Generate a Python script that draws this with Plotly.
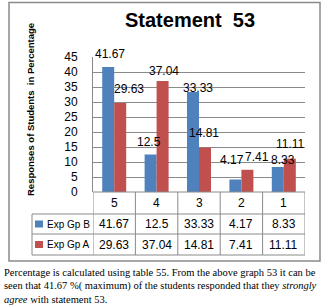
import plotly.graph_objects as go

categories = ["5", "4", "3", "2", "1"]
series_names = ["Exp Gp B", "Exp Gp A"]
exp_gp_b = [41.67, 12.5, 33.33, 4.17, 8.33]
exp_gp_a = [29.63, 37.04, 14.81, 7.41, 11.11]
colors = ["#4F81BD", "#C0504D"]
y_ticks = [0, 5, 10, 15, 20, 25, 30, 35, 40, 45]

# label placement tweaks (pixels, relative to bar centre / bar top) – styling only
label_dx = [[2, -2, 5, -3, 5], [9, 1, -1, 10, 1]]
label_dy = [[13, 13, 4, 19, 7], [14, 10, 15, 13, 15]]

W, H = 330, 307
L, R, T, B = 93, 305, 57, 192  # plot area in pixels


def px(x):
    return (x - L) / (R - L)


def py(y):
    return (B - y) / (B - T)


FONT = "Liberation Sans"
GRID = "#8a8a8a"
xs = list(range(len(categories)))
bar_gap = 0.434
half = (1 - bar_gap) / 4  # offset of each bar centre from category centre (x units)

fig = go.Figure()
annotations = []
for s, (name, vals, col) in enumerate(zip(series_names, [exp_gp_b, exp_gp_a], colors)):
    fig.add_trace(go.Bar(
        x=xs, y=vals, name=name, marker=dict(color=col, line=dict(width=0)),
        showlegend=False, hoverinfo="y",
    ))
    for i, v in enumerate(vals):
        annotations.append(dict(
            x=i + (half if s else -half), xref="x", y=v, yref="y",
            text=f"{v:g}", showarrow=False, xanchor="center", yanchor="middle",
            xshift=label_dx[s][i], yshift=label_dy[s][i],
            font=dict(family=FONT, size=12, color="black")))

shapes = []

# outer frame
shapes.append(dict(type="rect", xref="paper", yref="paper",
                   x0=px(9), x1=px(320), y0=py(261), y1=py(2.5),
                   line=dict(color=GRID, width=1.5)))

# table geometry (pixels)
row_tops = [B, 214, 234, 255]
leg_left = 32
shapes.append(dict(type="line", xref="paper", yref="paper", x0=px(L), x1=px(R),
                   y0=py(row_tops[0]), y1=py(row_tops[0]), line=dict(color=GRID, width=1)))
for yy in row_tops[1:]:
    shapes.append(dict(type="line", xref="paper", yref="paper", x0=px(leg_left), x1=px(R),
                       y0=py(yy), y1=py(yy), line=dict(color=GRID, width=1)))
for i in range(len(categories) + 1):
    shapes.append(dict(type="line", xref="x", yref="paper", x0=i - 0.5, x1=i - 0.5,
                       y0=py(row_tops[0]), y1=py(row_tops[-1]), line=dict(color=GRID, width=1)))
shapes.append(dict(type="line", xref="paper", yref="paper", x0=px(leg_left), x1=px(leg_left),
                   y0=py(row_tops[1]), y1=py(row_tops[-1]), line=dict(color=GRID, width=1)))

# category row
for i, c in enumerate(categories):
    annotations.append(dict(x=i, xref="x", y=py((row_tops[0] + row_tops[1]) / 2), yref="paper",
                            text=c, showarrow=False, xanchor="center", yanchor="middle",
                            font=dict(family=FONT, size=12, color="black")))
# data rows
for r, (name, vals, col) in enumerate(zip(series_names, [exp_gp_b, exp_gp_a], colors)):
    yc = (row_tops[r + 1] + row_tops[r + 2]) / 2
    for i, v in enumerate(vals):
        annotations.append(dict(x=i, xref="x", y=py(yc), yref="paper", text=f"{v:g}",
                                showarrow=False, xanchor="center", yanchor="middle",
                                font=dict(family=FONT, size=12, color="black")))
    shapes.append(dict(type="rect", xref="paper", yref="paper", x0=px(35), x1=px(43),
                       y0=py(yc + 3.5), y1=py(yc - 3.5), fillcolor=col, line=dict(width=0)))
    annotations.append(dict(x=px(45), xref="paper", y=py(yc), yref="paper", text=name,
                            xanchor="left", yanchor="middle", showarrow=False,
                            font=dict(family=FONT, size=10, color="black")))

# title
annotations.append(dict(x=px(190), y=py(20), xref="paper", yref="paper",
                        text="<b>Statement  53</b>", showarrow=False,
                        xanchor="center", yanchor="middle",
                        font=dict(family=FONT, size=20, color="black")))
# y axis title
annotations.append(dict(x=px(30), y=py(110), xref="paper", yref="paper", textangle=-90,
                        text="<b>Responses of Students  in Percentage</b>", showarrow=False,
                        xanchor="center", yanchor="middle",
                        font=dict(family=FONT, size=9.5, color="black")))

# caption below chart
caption = [
    "Percentage is calculated using table 55. From the above graph 53 it can be",
    f"seen that {max(exp_gp_b + exp_gp_a):g} %( maximum) of the students responded that they <i>strongly</i>",
    "<i>agree</i> with statement 53.",
]
for k, line in enumerate(caption):
    annotations.append(dict(x=px(2), y=py(272 + 13.5 * k), xref="paper", yref="paper",
                            xanchor="left", yanchor="middle", text=line, showarrow=False,
                            font=dict(family="Liberation Serif", size=10.5, color="black")))

fig.update_layout(
    width=W, height=H,
    margin=dict(l=L, r=W - R, t=T, b=H - B, pad=0),
    paper_bgcolor="white", plot_bgcolor="white",
    barmode="group", bargap=bar_gap, bargroupgap=0,
    xaxis=dict(range=[-0.5, len(categories) - 0.5], showticklabels=False, showgrid=False,
               zeroline=False, showline=False, ticks=""),
    yaxis=dict(range=[0, 45], tickvals=y_ticks, showgrid=True, gridcolor=GRID, gridwidth=1,
               zeroline=False, showline=True, linecolor=GRID, linewidth=1,
               ticks="", tickfont=dict(family=FONT, size=12, color="black"), ticklabelstandoff=12),
    shapes=shapes, annotations=annotations,
    font=dict(family=FONT),
)

fig.write_html("out.html", config={"displayModeBar": False},
               post_script="document.body.style.margin='0';")
